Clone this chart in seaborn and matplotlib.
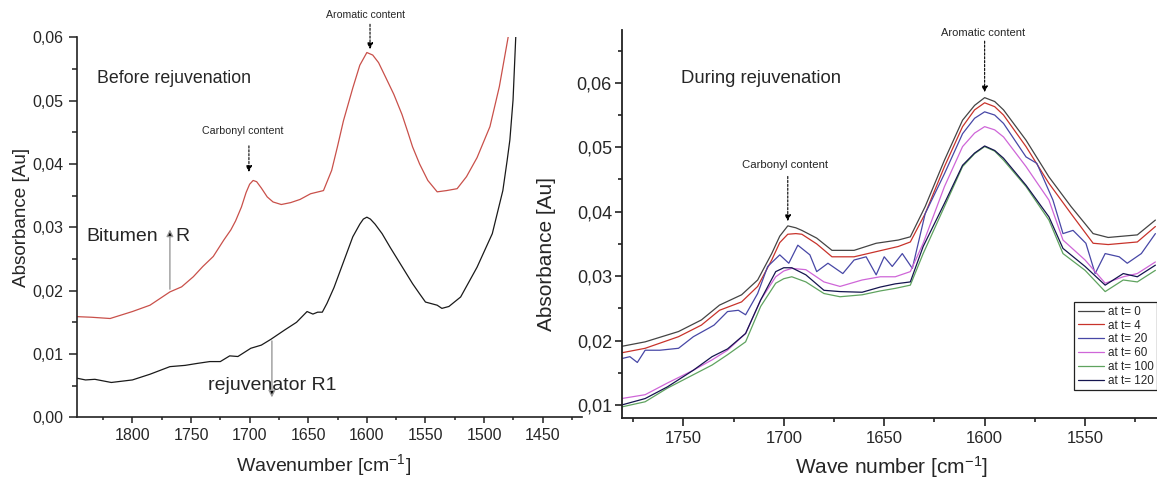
import matplotlib
matplotlib.use("Agg")
import matplotlib.pyplot as plt
import seaborn as sns
import pandas as pd
from matplotlib.ticker import MultipleLocator, FuncFormatter

# ---------------- data: left panel (before rejuvenation) ----------------
red_wn = [1848, 1835, 1819, 1800, 1785, 1768, 1758, 1748, 1740, 1731, 1722, 1716, 1712, 1707,
          1703, 1700, 1697, 1694, 1690, 1685, 1680, 1673, 1665, 1657, 1648, 1637, 1630, 1625,
          1620, 1612, 1606, 1600, 1595, 1590, 1584, 1577, 1570, 1565, 1561, 1555, 1548, 1540,
          1532, 1523, 1515, 1506, 1495, 1487, 1479.5, 1476]
red_abs = [0.0159, 0.0158, 0.0156, 0.0167, 0.0177, 0.0198, 0.0206, 0.0222, 0.0238, 0.0254, 0.0280,
           0.0296, 0.0310, 0.0332, 0.0355, 0.0368, 0.0374, 0.0372, 0.0362, 0.0348, 0.0340, 0.0336,
           0.0339, 0.0344, 0.0353, 0.0358, 0.0390, 0.0428, 0.0468, 0.0520, 0.0556, 0.0576, 0.0572,
           0.0560, 0.0537, 0.0510, 0.0478, 0.0450, 0.0427, 0.0400, 0.0374, 0.0356, 0.0358, 0.0361,
           0.0380, 0.0410, 0.0459, 0.0522, 0.0600, 0.0660]

black_wn = [1848, 1840, 1832, 1818, 1800, 1785, 1768, 1755, 1745, 1734, 1725, 1717, 1710, 1699,
            1690, 1682, 1670, 1660, 1651, 1646, 1642, 1638, 1634, 1628, 1620, 1612, 1606, 1603,
            1600, 1597, 1593, 1587, 1580, 1575, 1568, 1561, 1555, 1550, 1540, 1536, 1530, 1520,
            1506, 1493, 1484, 1480.3, 1478, 1475.3, 1473, 1471]
black_abs = [0.0062, 0.0059, 0.0060, 0.0055, 0.0059, 0.0068, 0.0080, 0.0082, 0.0085, 0.0088,
             0.0088, 0.0097, 0.0096, 0.0109, 0.0114, 0.0123, 0.0138, 0.0150, 0.0167, 0.0163,
             0.0166, 0.0166, 0.0180, 0.0205, 0.0245, 0.0285, 0.0305, 0.0313, 0.0316, 0.0313,
             0.0305, 0.0290, 0.0268, 0.0253, 0.0232, 0.0211, 0.0195, 0.0182, 0.0177, 0.0172,
             0.0175, 0.0190, 0.0237, 0.0290, 0.0358, 0.0406, 0.0438, 0.0501, 0.0600, 0.0660]

# ---------------- data: right panel (during rejuvenation) ----------------
grid_wn = [1780.7, 1769, 1752.4, 1741, 1732, 1721, 1713, 1706, 1702, 1698, 1694, 1691, 1683.6,
           1676, 1665, 1654, 1643, 1637, 1629.6, 1620, 1611, 1605, 1600, 1595, 1590.6, 1579.4,
           1568, 1557, 1546, 1538.5, 1524, 1515]
t0_abs = [0.0191, 0.0198, 0.0214, 0.0232, 0.0255, 0.0271, 0.0294, 0.0335, 0.0362, 0.0378, 0.0375,
          0.0371, 0.0359, 0.0340, 0.0340, 0.0351, 0.0356, 0.0361, 0.0408, 0.0480, 0.0542, 0.0565,
          0.0577, 0.0571, 0.0558, 0.0511, 0.0454, 0.0408, 0.0366, 0.0360, 0.0364, 0.0387]
t4_abs = [0.0181, 0.0188, 0.0206, 0.0224, 0.0247, 0.0260, 0.0284, 0.0325, 0.0352, 0.0365, 0.0366,
          0.0365, 0.0350, 0.0330, 0.0330, 0.0338, 0.0346, 0.0353, 0.0397, 0.0470, 0.0532, 0.0558,
          0.0569, 0.0563, 0.0550, 0.0501, 0.0444, 0.0397, 0.0351, 0.0349, 0.0353, 0.0377]

t20_wn = [1780.7, 1776.6, 1772.9, 1769, 1761.7, 1752.4, 1745, 1737.5, 1734.7, 1728, 1722.6, 1719,
          1713, 1708, 1702, 1697.5, 1693, 1687, 1683.6, 1678, 1670.6, 1665, 1659, 1654, 1650, 1646,
          1641, 1636, 1629.6, 1620, 1611, 1605, 1600, 1595, 1590.6, 1579.4, 1574, 1566, 1561, 1556,
          1549.6, 1545, 1540, 1533, 1529, 1522, 1515]
t20_abs = [0.0172, 0.0175, 0.0166, 0.0185, 0.0185, 0.0188, 0.0206, 0.0219, 0.0224, 0.0245, 0.0247,
           0.0240, 0.0273, 0.0315, 0.0333, 0.0320, 0.0348, 0.0333, 0.0307, 0.0320, 0.0304, 0.0325,
           0.0330, 0.0302, 0.0330, 0.0315, 0.0335, 0.0312, 0.0397, 0.0459, 0.0521, 0.0545, 0.0555,
           0.0550, 0.0537, 0.0485, 0.0475, 0.0418, 0.0366, 0.0371, 0.0351, 0.0304, 0.0335, 0.0330,
           0.0320, 0.0335, 0.0366]

low_wn = [1780.7, 1769, 1758, 1745, 1735.7, 1728, 1719, 1711.5, 1704, 1700, 1696, 1689, 1680,
          1672, 1661, 1652, 1644.5, 1637, 1630.6, 1620, 1611, 1605, 1600, 1595, 1590.6, 1579.4,
          1568, 1561, 1550, 1540, 1531, 1524, 1515]
t60_abs = [0.0110, 0.0116, 0.0134, 0.0154, 0.0170, 0.0185, 0.0211, 0.0263, 0.0299, 0.0308, 0.0312,
           0.0310, 0.0291, 0.0284, 0.0294, 0.0299, 0.0299, 0.0307, 0.0351, 0.0439, 0.0501, 0.0522,
           0.0532, 0.0527, 0.0516, 0.0470, 0.0418, 0.0356, 0.0325, 0.0289, 0.0299, 0.0304, 0.0322]
t100_abs = [0.0097, 0.0105, 0.0126, 0.0147, 0.0162, 0.0178, 0.0198, 0.0253, 0.0289, 0.0296, 0.0299,
            0.0291, 0.0273, 0.0268, 0.0271, 0.0277, 0.0281, 0.0286, 0.0335, 0.0408, 0.0470, 0.0490,
            0.0501, 0.0494, 0.0480, 0.0439, 0.0387, 0.0335, 0.0309, 0.0276, 0.0294, 0.0291, 0.0309]
t120_abs = [0.0100, 0.0110, 0.0128, 0.0154, 0.0175, 0.0187, 0.0211, 0.0263, 0.0307, 0.0313, 0.0313,
            0.0302, 0.0278, 0.0276, 0.0275, 0.0283, 0.0288, 0.0291, 0.0346, 0.0413, 0.0472, 0.0491,
            0.0502, 0.0495, 0.0483, 0.0441, 0.0392, 0.0343, 0.0315, 0.0286, 0.0304, 0.0299, 0.0317]

legend_labels = ["at t= 0", "at t= 4", "at t= 20", "at t= 60", "at t= 100", "at t= 120"]
series_colors = ["#444444", "#c8332b", "#4747a6", "#cf66d8", "#5fa35f", "#15154f"]

left_xticks = [1800, 1750, 1700, 1650, 1600, 1550, 1500, 1450]
right_xticks = [1750, 1700, 1650, 1600, 1550]

# ---------------- style ----------------
sns.set_style("ticks")
plt.rcParams['font.family'] = ['Liberation Sans', 'DejaVu Sans']
plt.rcParams['mathtext.default'] = 'regular'

comma = FuncFormatter(lambda v, p: f"{v:.2f}".replace('.', ','))

fig = plt.figure(figsize=(11.57, 4.79), dpi=100)
axL = fig.add_axes([0.0663, 0.1288, 0.4365, 0.7933])
axR = fig.add_axes([0.5373, 0.1280, 0.4627, 0.8094])

# ---------------- left panel ----------------
sns.lineplot(x=red_wn, y=red_abs, color="#c9504a", lw=0.9, ax=axL, legend=False)
sns.lineplot(x=black_wn, y=black_abs, color="#1a1a1a", lw=0.9, ax=axL, legend=False)
axL.set_xlim(1847.5, 1416.7)
axL.set_ylim(0, 0.06)
axL.set_xticks(left_xticks)
axL.xaxis.set_minor_locator(MultipleLocator(25))
axL.yaxis.set_major_locator(MultipleLocator(0.01))
axL.yaxis.set_minor_locator(MultipleLocator(0.005))
axL.yaxis.set_major_formatter(comma)
for s in ['top', 'right']:
    axL.spines[s].set_visible(False)
for s in ['left', 'bottom']:
    axL.spines[s].set_linewidth(1.2)
    axL.spines[s].set_color('#222222')
axL.tick_params(axis='y', which='major', direction='out', length=6, width=1.1, labelsize=11.5, pad=3.5, color='#222222')
axL.tick_params(axis='y', which='minor', direction='out', length=3.6, width=1.1, color='#222222')
axL.tick_params(axis='x', which='major', direction='out', length=4.5, width=1.1, labelsize=11.5, pad=3.5, color='#222222')
axL.tick_params(axis='x', which='minor', direction='out', length=2.5, width=1.1, color='#222222')
axL.set_xlabel("Wavenumber [cm$^{-1}$]", fontsize=14)
axL.set_ylabel("Absorbance [Au]", fontsize=13.6)
axL.xaxis.label.set_va('center')
axL.yaxis.label.set_va('center')
axL.xaxis.set_label_coords(0.488, -0.1255)
axL.yaxis.set_label_coords(-0.1103, 0.527)

axL.text(1829.8, 0.0535, "Before rejuvenation", fontsize=12.8, ha='left', va='center')
axL.text(1706, 0.0452, "Carbonyl content", fontsize=7.7, ha='center', va='center')
axL.annotate("", xy=(1700.6, 0.0383), xytext=(1700.6, 0.0433),
             arrowprops=dict(arrowstyle='-|>', linestyle=(0, (2, 1.5)), lw=0.8, color='k', mutation_scale=9))
axL.text(1601.5, 0.0635, "Aromatic content", fontsize=7.6, ha='center', va='center')
axL.annotate("", xy=(1597.3, 0.0577), xytext=(1597.3, 0.0625),
             arrowprops=dict(arrowstyle='-|>', linestyle=(0, (2, 1.5)), lw=0.8, color='k', mutation_scale=9))
axL.text(1839, 0.0285, "Bitumen", fontsize=14, ha='left', va='center')
axL.text(1763.7, 0.0285, "R", fontsize=14, ha='left', va='center')
axL.annotate("", xy=(1768, 0.0301), xytext=(1768, 0.0198),
             arrowprops=dict(arrowstyle='-|>', lw=1.0, edgecolor='#9a9a9a', facecolor='k', mutation_scale=10))
axL.text(1735.3, 0.0051, "rejuvenator R1", fontsize=14, ha='left', va='center')
axL.annotate("", xy=(1681, 0.0027), xytext=(1681, 0.0125),
             arrowprops=dict(arrowstyle='-|>', lw=1.0, edgecolor='#9a9a9a', facecolor='k', mutation_scale=10))

# ---------------- right panel ----------------
right_x = [grid_wn, grid_wn, t20_wn, low_wn, low_wn, low_wn]
right_y = [t0_abs, t4_abs, t20_abs, t60_abs, t100_abs, t120_abs]
for xs, ys, lab, col in zip(right_x, right_y, legend_labels, series_colors):
    sns.lineplot(x=xs, y=ys, color=col, lw=0.9, label=lab, ax=axR)
axR.set_xlim(1780.7, 1514.2)
axR.set_ylim(0.00803, 0.0682)
axR.set_xticks(right_xticks)
axR.xaxis.set_minor_locator(MultipleLocator(25))
axR.yaxis.set_major_locator(MultipleLocator(0.01))
axR.yaxis.set_minor_locator(MultipleLocator(0.005))
axR.yaxis.set_major_formatter(comma)
for s in ['top', 'right']:
    axR.spines[s].set_visible(False)
for s in ['left', 'bottom']:
    axR.spines[s].set_linewidth(1.3)
    axR.spines[s].set_color('#222222')
axR.tick_params(axis='y', which='major', direction='out', length=5, width=1.2, labelsize=13, pad=2, color='#222222')
axR.tick_params(axis='y', which='minor', direction='out', length=3.2, width=1.2, color='#222222')
axR.tick_params(axis='x', which='major', direction='out', length=5.5, width=1.2, labelsize=12, pad=4, color='#222222')
axR.tick_params(axis='x', which='minor', direction='out', length=3.2, width=1.2, color='#222222')
axR.set_xlabel("Wave number [cm$^{-1}$]", fontsize=15)
axR.set_ylabel("Absorbance [Au]", fontsize=15)
axR.xaxis.label.set_va('center')
axR.yaxis.label.set_va('center')
axR.xaxis.set_label_coords(0.505, -0.127)
axR.yaxis.set_label_coords(-0.1395, 0.422)

axR.text(1751, 0.0607, "During rejuvenation", fontsize=13.3, ha='left', va='center')
axR.text(1699.4, 0.0473, "Carbonyl content", fontsize=8.2, ha='center', va='center')
axR.annotate("", xy=(1698, 0.0381), xytext=(1698, 0.0459),
             arrowprops=dict(arrowstyle='-|>', linestyle=(0, (2, 1.5)), lw=0.8, color='k', mutation_scale=9))
axR.text(1600.8, 0.0678, "Aromatic content", fontsize=8.0, ha='center', va='center')
axR.annotate("", xy=(1600, 0.0581), xytext=(1600, 0.0669),
             arrowprops=dict(arrowstyle='-|>', linestyle=(0, (2, 1.5)), lw=0.8, color='k', mutation_scale=9))

leg = axR.legend(loc='upper left', bbox_to_anchor=(0.845, 0.298), fontsize=8.4, frameon=True,
                 fancybox=False, edgecolor='#222222', framealpha=1, handlelength=2.3,
                 handletextpad=0.3, labelspacing=0.16, borderpad=0.3, borderaxespad=0)
leg.get_frame().set_linewidth(0.9)

fig.savefig("out.png", dpi=100)
